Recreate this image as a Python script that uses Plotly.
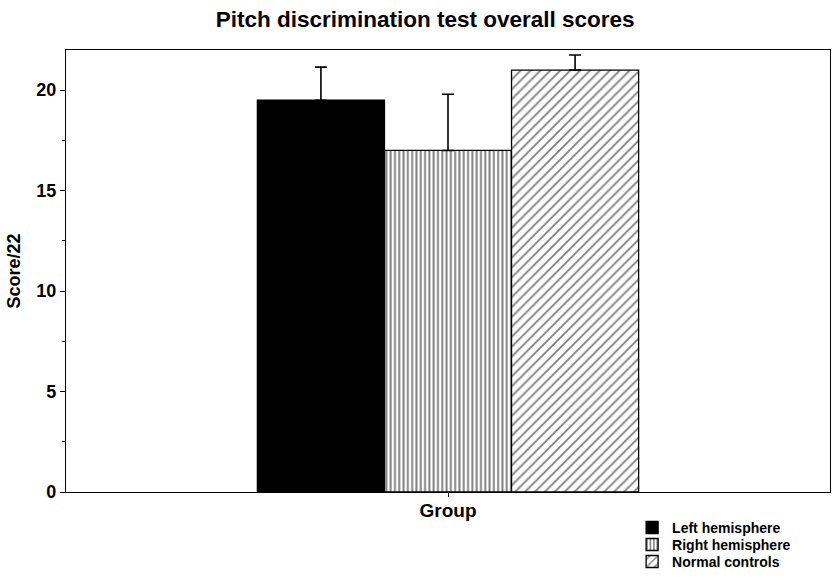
import plotly.graph_objects as go

# Group means and upper error (SD) for the pitch discrimination test
groups = ["Left hemisphere", "Right hemisphere", "Normal controls"]
scores = [19.5, 17.0, 21.0]
errors = [1.65, 2.8, 0.75]
category = ["Group"]

fills = [
    dict(shape="", fgcolor="black", bgcolor="black"),
    dict(shape="|", fgcolor="black", bgcolor="white", size=4.3, solidity=0.45),
    dict(shape="/", fgcolor="black", bgcolor="white", size=7, solidity=0.26),
]
colors = ["black", "white", "white"]
legend_ids = ["legend", "legend2", "legend3"]

FONT = "Liberation Sans, Arial, Helvetica, sans-serif"
LEGEND_FONT = dict(size=14, family=FONT, weight="bold", color="black")

fig = go.Figure()
for name, val, err, pat, col, lg in zip(groups, scores, errors, fills, colors, legend_ids):
    fig.add_trace(go.Bar(
        name=name,
        x=category,
        y=[val],
        legend=lg,
        marker=dict(color=col, pattern=pat, line=dict(color="black", width=1.3)),
        error_y=dict(type="data", symmetric=False, array=[err], arrayminus=[0],
                     color="black", thickness=1.6, width=6),
    ))

# one legend box per entry so the rows sit close together
row_step = 17 / 442
legend_boxes = {}
for i, lg in enumerate(legend_ids):
    legend_boxes[lg] = dict(x=0.741, xanchor="left", y=-0.045 - i * row_step, yanchor="top",
                            bgcolor="rgba(0,0,0,0)", font=LEGEND_FONT)

fig.update_layout(
    width=835, height=579,
    margin=dict(l=66, r=5, t=50, b=87, autoexpand=False),
    paper_bgcolor="white", plot_bgcolor="white",
    barmode="group", bargap=0.501, bargroupgap=0,
    font=dict(family=FONT, color="black", weight="bold"),
    title=dict(text="Pitch discrimination test overall scores",
               x=0.47, xref="paper", xanchor="center",
               y=0.967, yref="container", yanchor="middle",
               font=dict(size=22.5, family=FONT, weight="bold", color="black")),
    showlegend=True,
    **legend_boxes,
)

fig.update_xaxes(
    showline=True, linecolor="black", linewidth=1.3, mirror=True,
    showgrid=False, zeroline=False,
    ticks="outside", ticklen=4, tickcolor="black",
    ticklabelstandoff=-3,
    tickfont=dict(size=19, family=FONT, weight="bold"),
    range=[-0.5, 0.5],
)
fig.update_yaxes(
    range=[0, 22], tickvals=[0, 5, 10, 15, 20],
    showline=True, linecolor="black", linewidth=1.3, mirror=True,
    showgrid=False, zeroline=False,
    ticks="outside", ticklen=5, tickcolor="black",
    minor=dict(tickvals=[2.5, 7.5, 12.5, 17.5], ticks="outside", ticklen=3, tickcolor="black"),
    tickfont=dict(size=18, family=FONT, weight="bold"),
    title=dict(text="Score/22", standoff=10,
               font=dict(size=18, family=FONT, weight="bold")),
)

fig.write_html("out.html")
